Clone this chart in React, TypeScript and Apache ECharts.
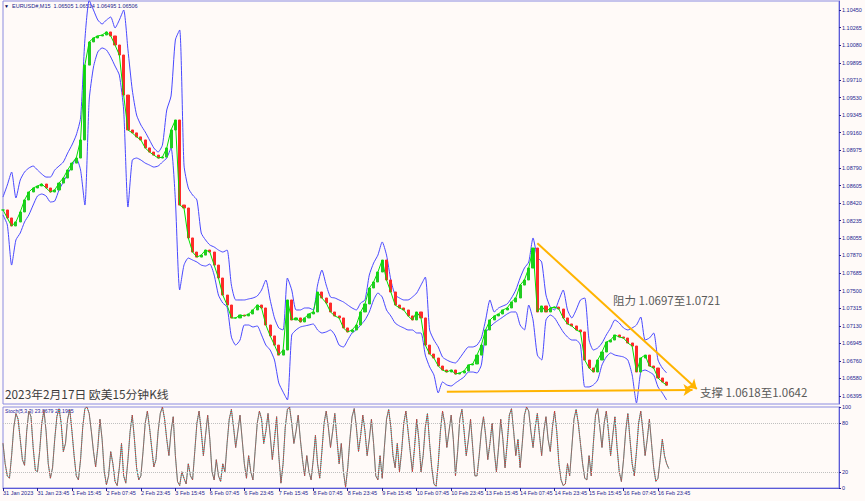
import React, { useEffect, useRef } from "react";
import * as echarts from "echarts";

const closes = [
  1.08348, 1.08264, 1.0818, 1.08222, 1.08327, 1.08453, 1.08537, 1.08579, 1.086, 1.08621,
  1.08579, 1.08537, 1.08558, 1.08631, 1.08684, 1.08768, 1.08841, 1.08894, 1.09084, 1.09871,
  1.10114, 1.10156, 1.10177, 1.10187, 1.10219, 1.10177, 1.10082, 1.09977, 1.09556, 1.09189,
  1.09158, 1.09116, 1.09084, 1.09, 1.08957, 1.08925, 1.08894, 1.08904, 1.09, 1.09189,
  1.09294, 1.084, 1.08369, 1.08054, 1.07906, 1.07853, 1.07874, 1.07927, 1.07906, 1.07769,
  1.07633, 1.07454, 1.07349, 1.07213, 1.07213, 1.07244, 1.07234, 1.07255, 1.07297, 1.07349,
  1.07318, 1.07139, 1.07024, 1.06928, 1.06823, 1.06876, 1.07402, 1.07192, 1.07213, 1.07171,
  1.07213, 1.07255, 1.07276, 1.07486, 1.07423, 1.0737, 1.07276, 1.07234, 1.07213, 1.07108,
  1.07066, 1.07087, 1.07139, 1.07276, 1.0736, 1.07528, 1.07591, 1.07696, 1.07822, 1.07612,
  1.07486, 1.07349, 1.07318, 1.07297, 1.07234, 1.07192, 1.07276, 1.07213, 1.06928, 1.06834,
  1.06792, 1.06708, 1.06666, 1.06645, 1.06666, 1.06624, 1.06635, 1.06656, 1.06719, 1.06729,
  1.06823, 1.06928, 1.07087, 1.07192, 1.07234, 1.07255, 1.07297, 1.07318, 1.07381, 1.07423,
  1.07559, 1.07612, 1.07738, 1.07948, 1.07276, 1.07339, 1.07276, 1.07318, 1.07328, 1.07307,
  1.07213, 1.0715, 1.07129, 1.07087, 1.07066, 1.06771, 1.06687, 1.06645, 1.06771, 1.06855,
  1.0696, 1.06981, 1.07034, 1.07013, 1.07002, 1.0695, 1.06918, 1.06645, 1.06792, 1.06823,
  1.06708, 1.06687, 1.06582, 1.0654, 1.06506,
];

const upperBand = [
  1.08484, 1.0861, 1.08747, 1.08474, 1.08663, 1.08747, 1.08789, 1.0881, 1.08768, 1.08726,
  1.08694, 1.08694, 1.08768, 1.0881, 1.08852, 1.08946, 1.09031, 1.09136, 1.09315, 1.10135,
  1.1055, 1.1045, 1.10345, 1.10303, 1.10345, 1.10376, 1.10261, 1.10345, 1.1045, 1.1003,
  1.09609, 1.09346, 1.09241, 1.09168, 1.09084, 1.09, 1.08957, 1.09031, 1.09399, 1.09546,
  1.10135, 1.1024, 1.0882, 1.08579, 1.08505, 1.08453, 1.08106, 1.08033, 1.0798, 1.07959,
  1.07927, 1.07906, 1.07927, 1.07559, 1.07402, 1.07402, 1.07402, 1.07413, 1.07423, 1.07444,
  1.07507, 1.07612, 1.07402, 1.07213, 1.07108, 1.07087, 1.07633, 1.07507, 1.07297, 1.07297,
  1.07318, 1.07318, 1.07297, 1.07559, 1.07717, 1.07559, 1.07433, 1.07423, 1.07402, 1.07381,
  1.07349, 1.07318, 1.07297, 1.0737, 1.07402, 1.07664, 1.0779, 1.07874, 1.08012, 1.07874,
  1.07612, 1.07454, 1.07423, 1.07402, 1.07402, 1.07433, 1.07475, 1.07559, 1.07643, 1.07087,
  1.06981, 1.06908, 1.06802, 1.06771, 1.0675, 1.0674, 1.06792, 1.06855, 1.06908, 1.06908,
  1.06928, 1.07002, 1.07192, 1.07402, 1.07276, 1.07318, 1.07339, 1.0736, 1.07423, 1.07507,
  1.07633, 1.07738, 1.07801, 1.08054, 1.07853, 1.07801, 1.07454, 1.07328, 1.07297, 1.07402,
  1.07507, 1.07297, 1.07213, 1.07297, 1.07402, 1.07423, 1.06981, 1.06876, 1.06897, 1.0695,
  1.07034, 1.07108, 1.07192, 1.0716, 1.07108, 1.07087, 1.07108, 1.07139, 1.07223, 1.06981,
  1.07002, 1.07055, 1.06771, 1.06687, 1.06635,
];

const lowerBand = [
  1.08296, 1.08191, 1.07769, 1.08033, 1.08106, 1.08222, 1.08296, 1.084, 1.08495, 1.08516,
  1.08495, 1.08432, 1.08442, 1.08558, 1.08642, 1.08726, 1.0881, 1.08894, 1.08768, 1.084,
  1.09504, 1.09851, 1.10009, 1.10051, 1.1003, 1.09956, 1.09861, 1.09766, 1.09399, 1.08379,
  1.08873, 1.08894, 1.08873, 1.08841, 1.0882, 1.08799, 1.0881, 1.08852, 1.08894, 1.09,
  1.08453, 1.07507, 1.07769, 1.07843, 1.07822, 1.07801, 1.07769, 1.07759, 1.0778, 1.07664,
  1.07454, 1.0737, 1.07328, 1.07013, 1.06928, 1.06981, 1.07139, 1.07139, 1.07118, 1.07129,
  1.07034, 1.06928, 1.06876, 1.06771, 1.0653, 1.06435, 1.06351, 1.07034, 1.07087, 1.07118,
  1.07129, 1.07139, 1.0715, 1.07087, 1.07055, 1.07066, 1.07087, 1.07034, 1.06928, 1.06908,
  1.06981, 1.07055, 1.07087, 1.07139, 1.07192, 1.07276, 1.07402, 1.07475, 1.07433, 1.07297,
  1.07234, 1.0716, 1.07129, 1.07108, 1.07087, 1.07087, 1.07055, 1.07055, 1.06823, 1.06698,
  1.06614, 1.06425, 1.0654, 1.06509, 1.06498, 1.0653, 1.06561, 1.06593, 1.06645, 1.06645,
  1.06635, 1.06719, 1.07055, 1.07118, 1.0716, 1.07192, 1.07223, 1.07255, 1.07276, 1.07276,
  1.07139, 1.07087, 1.07349, 1.07192, 1.06823, 1.06771, 1.07192, 1.07244, 1.07213, 1.07139,
  1.07066, 1.07013, 1.06981, 1.06981, 1.06928, 1.06488, 1.06488, 1.06509, 1.06561, 1.06719,
  1.06803, 1.06845, 1.06823, 1.06813, 1.06803, 1.06771, 1.06614, 1.0632, 1.06645, 1.06666,
  1.06645, 1.06614, 1.06488, 1.06425, 1.06351,
];

// Stochastic %K, sampled every hour
const stochK = [
  55, 30, 15, 12, 40, 75, 92, 85, 60, 35,
  28, 70, 95, 88, 50, 22, 20, 45, 80, 96,
  70, 30, 12, 25, 60, 88, 98, 80, 45, 55,
  85, 97, 70, 40, 15, 10, 35, 75, 98, 100,
  92, 70, 45, 26, 50, 85, 60, 20, 4, 15,
  45, 30, 8, 3, 25, 55, 15, 6, 35, 70,
  90, 60, 25, 10, 15, 45, 80, 95, 75, 50,
  26, 35, 70, 92, 100, 85, 60, 40, 70, 88,
  40, 8, 3, 20, 12, 5, 30, 15, 10, 45,
  80, 95, 70, 40, 65, 90, 60, 20, 10, 35,
  15, 8, 30, 20, 55, 85, 97, 75, 50, 70,
  90, 60, 30, 12, 40, 20, 10, 45, 80, 95,
  85, 55, 70, 92, 65, 35, 60, 88, 40, 6,
  30, 75, 97, 100, 80, 55, 70, 90, 60, 35,
  15, 40, 20, 10, 35, 65, 30, 12, 45, 80,
  95, 75, 50, 70, 92, 60, 30, 55, 20, 1,
  25, 60, 88, 98, 75, 45, 65, 90, 70, 40,
  60, 85, 55, 15, 10, 40, 12, 50, 85, 97,
  75, 40, 25, 55, 20, 45, 80, 95, 70, 45,
  20, 50, 85, 60, 20, 40, 75, 92, 55, 25,
  5, 2, 30, 70, 95, 80, 50, 70, 90, 60,
  15, 45, 85, 97, 70, 40, 60, 85, 50, 15,
  15, 40, 70, 88, 65, 35, 55, 80, 45, 20,
  50, 85, 60, 25, 55, 90, 98, 70, 40, 60,
  25, 55, 90, 100, 95, 70, 50, 75, 92, 65,
  40, 70, 88, 60, 45, 75, 95, 70, 30, 10,
  3, 5, 30, 15, 50, 85, 97, 80, 55, 30,
  12, 10, 40, 15, 55, 90, 98, 75, 50, 80,
  95, 70, 40, 65, 88, 50, 20, 8, 35, 70,
  92, 60, 30, 15, 45, 80, 95, 70, 40, 60,
  85, 55, 25, 8, 12, 35, 60, 40, 30, 24,
];

const priceTicks = [
  1.1045, 1.10265, 1.1008, 1.09895, 1.0971, 1.0953, 1.09345, 1.0916, 1.08975, 1.0879,
  1.08605, 1.0842, 1.08235, 1.08055, 1.0787, 1.07685, 1.075, 1.07315, 1.0713, 1.06945,
  1.0676, 1.0658, 1.06395,
];
const stochTicks = [0, 20, 80, 100];
const stochLevels = [80, 20];
const timeLabels = [
  "31 Jan 2023", "31 Jan 23:45", "1 Feb 15:45", "2 Feb 07:45", "2 Feb 23:45",
  "3 Feb 15:45", "6 Feb 07:45", "6 Feb 23:45", "7 Feb 15:45", "8 Feb 07:45",
  "8 Feb 23:45", "9 Feb 15:45", "10 Feb 07:45", "10 Feb 23:45", "13 Feb 15:45",
  "14 Feb 07:45", "14 Feb 23:45", "15 Feb 15:45", "16 Feb 07:45", "16 Feb 23:45",
];
const currentPrice = 1.06506;
// trend lines: [slot index, price]
const resistanceLine = [[124, 1.07998], [161, 1.06466]];
const supportLine = [[103, 1.06438], [160, 1.06456]];

const headerText = "EURUSD#,M15  1.06505 1.06514 1.06495 1.06506";
const stochTitle = "Stoch(5,3,3) 23.8679 23.1965";
const titleText = "2023年2月17日 欧美15分钟K线";
const resistanceText = "阻力 1.0697至1.0721";
const supportText = "支撑 1.0618至1.0642";

const MAIN_SLOTS = 195; // 2-hour slots across the window
const STOCH_SLOTS = 389; // 1-hour slots across the window
const LABEL_EVERY = 16;

const SMALL_FONT = "Liberation Sans";
const CJK_FONT = "Noto Sans CJK SC";
const AXIS_COLOR = "#5a5ad8";
const LABEL_COLOR = "#1e1e90";

export default function App() {
  const ref = useRef<HTMLDivElement>(null);

  useEffect(() => {
    if (!ref.current) return;
    const chart = echarts.init(ref.current, null, { renderer: "svg" });

    const mainCats = Array.from({ length: MAIN_SLOTS }, (_, i) => String(i));
    const stochCats = Array.from({ length: STOCH_SLOTS }, (_, i) => String(i));
    const ohlc = closes.map((c, i) => {
      const o = i === 0 ? c : closes[i - 1];
      return [o, c, Math.min(o, c), Math.max(o, c)];
    });
    const showLabel = (i: number) =>
      i % LABEL_EVERY === 0 && i / LABEL_EVERY < timeLabels.length;

    const option: any = {
      animation: false,
      backgroundColor: "#fffaf8",
      grid: [
        {
          left: 3, top: 1, width: 836, height: 403,
          show: true, borderColor: "#8c8ce0", borderWidth: 1,
          backgroundColor: "#fffaf8",
        },
        {
          left: 3, top: 407, width: 836, height: 81,
          show: true, borderColor: "#8c8ce0", borderWidth: 1,
          backgroundColor: "#fffaf8",
        },
      ],
      xAxis: [
        { type: "category", gridIndex: 0, data: mainCats, boundaryGap: false, show: false },
        {
          type: "category",
          gridIndex: 1,
          data: stochCats,
          boundaryGap: false,
          axisLine: { show: true, lineStyle: { color: AXIS_COLOR } },
          axisTick: {
            show: true,
            interval: (i: number) => showLabel(i),
            length: 3,
            lineStyle: { color: LABEL_COLOR },
          },
          axisLabel: {
            show: true,
            interval: (i: number) => showLabel(i),
            formatter: (v: string) => {
              const i = Number(v);
              return showLabel(i) ? timeLabels[i / LABEL_EVERY] : "";
            },
            align: "left",
            margin: 2,
            fontSize: 5.5,
            color: LABEL_COLOR,
            fontFamily: SMALL_FONT,
          },
          splitLine: { show: false },
        },
      ],
      yAxis: [
        {
          type: "value",
          gridIndex: 0,
          position: "right",
          min: 1.063087,
          max: 1.105446,
          axisLine: { show: true, lineStyle: { color: AXIS_COLOR } },
          axisTick: { show: true, customValues: priceTicks, length: 2, lineStyle: { color: LABEL_COLOR } },
          axisLabel: {
            show: true,
            customValues: priceTicks,
            formatter: (v: number) => v.toFixed(5),
            fontSize: 5.5,
            color: LABEL_COLOR,
            margin: 3,
            fontFamily: SMALL_FONT,
          },
          splitLine: { show: false },
        },
        {
          type: "value",
          gridIndex: 1,
          position: "right",
          min: 0,
          max: 100,
          axisLine: { show: true, lineStyle: { color: AXIS_COLOR } },
          axisTick: { show: true, customValues: stochTicks, length: 2, lineStyle: { color: LABEL_COLOR } },
          axisLabel: {
            show: true,
            customValues: stochTicks,
            formatter: (v: number) => String(v),
            fontSize: 5.5,
            color: LABEL_COLOR,
            margin: 3,
            fontFamily: SMALL_FONT,
          },
          splitLine: { show: false },
        },
      ],
      series: [
        {
          type: "line",
          name: "upper",
          xAxisIndex: 0,
          yAxisIndex: 0,
          data: upperBand,
          symbol: "none",
          smooth: 0.2,
          lineStyle: { color: "#4848ff", width: 1 },
          z: 2,
          markLine: {
            silent: true,
            symbol: ["none", "none"],
            lineStyle: { opacity: 0 },
            label: {
              show: true,
              position: "end",
              distance: 2,
              formatter: currentPrice.toFixed(5),
              backgroundColor: "#000080",
              color: "#ffffff",
              padding: [1, 2],
              fontSize: 5.5,
              fontFamily: SMALL_FONT,
            },
            data: [{ yAxis: currentPrice }],
          },
        },
        {
          type: "line",
          name: "lower",
          xAxisIndex: 0,
          yAxisIndex: 0,
          data: lowerBand,
          symbol: "none",
          smooth: 0.2,
          lineStyle: { color: "#4848ff", width: 1 },
          z: 2,
        },
        {
          type: "candlestick",
          name: "EURUSD",
          xAxisIndex: 0,
          yAxisIndex: 0,
          data: ohlc,
          barWidth: 2.6,
          itemStyle: {
            color: "#22cc22",
            color0: "#ff2a2a",
            borderColor: "#22cc22",
            borderColor0: "#ff2a2a",
            borderWidth: 1,
          },
          z: 3,
        },
        {
          type: "line",
          name: "close",
          xAxisIndex: 0,
          yAxisIndex: 0,
          data: closes,
          symbol: "none",
          lineStyle: { color: "#00e000", width: 1 },
          z: 4,
          markLine: {
            silent: true,
            symbol: ["none", "arrow"],
            symbolSize: 9,
            label: { show: false },
            lineStyle: { color: "#ffb400", width: 2, type: "solid" },
            data: [
              [{ coord: resistanceLine[0] }, { coord: resistanceLine[1] }],
              [{ coord: supportLine[0] }, { coord: supportLine[1] }],
            ],
          },
        },
        {
          type: "line",
          name: "stochMain",
          xAxisIndex: 1,
          yAxisIndex: 1,
          data: stochK,
          symbol: "none",
          lineStyle: { color: "#20b2aa", width: 1 },
          z: 2,
          markLine: {
            silent: true,
            symbol: ["none", "none"],
            label: { show: false },
            lineStyle: { color: "#c0c0c0", width: 1, type: "dotted" },
            data: stochLevels.map((v) => ({ yAxis: v })),
          },
        },
        {
          type: "line",
          name: "stochSignal",
          xAxisIndex: 1,
          yAxisIndex: 1,
          data: stochK,
          symbol: "none",
          lineStyle: { color: "#ff2020", width: 1, type: "dotted" },
          z: 3,
        },
      ],
      graphic: [
        { type: "text", left: 4, top: 3, style: { text: "▼", fontSize: 5, fill: "#000050" } },
        {
          type: "text", left: 12, top: 3,
          style: { text: headerText, fontSize: 5.5, fill: "#1c1c8c", fontFamily: SMALL_FONT },
        },
        {
          type: "text", left: 5, top: 388,
          style: { text: titleText, fontSize: 11.8, fill: "#3c3c3c", fontFamily: CJK_FONT },
        },
        {
          type: "text", left: 613, top: 294,
          style: { text: resistanceText, fontSize: 11.5, fill: "#5a5a5a", fontFamily: CJK_FONT },
        },
        {
          type: "text", left: 700, top: 386,
          style: { text: supportText, fontSize: 11.5, fill: "#5a5a5a", fontFamily: CJK_FONT },
        },
        {
          type: "text", left: 5, top: 408,
          style: { text: stochTitle, fontSize: 5.2, fill: "#2020a0", fontFamily: SMALL_FONT },
        },
      ],
    };

    chart.setOption(option);
    return () => chart.dispose();
  }, []);

  return (
    <div
      ref={ref}
      style={{ position: "fixed", left: 0, top: 0, width: 865, height: 501 }}
    />
  );
}
